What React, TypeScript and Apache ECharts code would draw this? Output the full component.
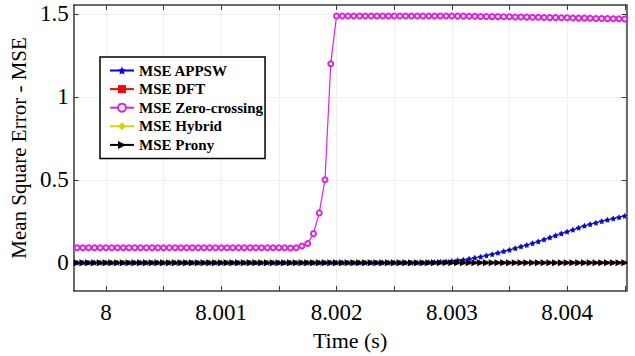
import React, { useEffect, useRef } from "react";
import * as echarts from "echarts";

// Time samples (s)
const time = [
  7.99975, 7.9998, 7.99985, 7.9999, 7.99995,
  8, 8.00005, 8.0001, 8.00015, 8.0002, 8.00025, 8.0003, 8.00035, 8.0004, 8.00045,
  8.0005, 8.00055, 8.0006, 8.00065, 8.0007, 8.00075, 8.0008, 8.00085, 8.0009, 8.00095,
  8.001, 8.00105, 8.0011, 8.00115, 8.0012, 8.00125, 8.0013, 8.00135, 8.0014, 8.00145,
  8.0015, 8.00155, 8.0016, 8.00165, 8.0017, 8.00175, 8.0018, 8.00185, 8.0019, 8.00195,
  8.002, 8.00205, 8.0021, 8.00215, 8.0022, 8.00225, 8.0023, 8.00235, 8.0024, 8.00245,
  8.0025, 8.00255, 8.0026, 8.00265, 8.0027, 8.00275, 8.0028, 8.00285, 8.0029, 8.00295,
  8.003, 8.00305, 8.0031, 8.00315, 8.0032, 8.00325, 8.0033, 8.00335, 8.0034, 8.00345,
  8.0035, 8.00355, 8.0036, 8.00365, 8.0037, 8.00375, 8.0038, 8.00385, 8.0039, 8.00395,
  8.004, 8.00405, 8.0041, 8.00415, 8.0042, 8.00425, 8.0043, 8.00435, 8.0044, 8.00445,
  8.0045,
];

const mseAPPSW = [
  0, 0, 0, 0, 0,
  0, 0, 0, 0, 0, 0, 0, 0, 0, 0,
  0, 0, 0, 0, 0, 0, 0, 0, 0, 0,
  0, 0, 0, 0, 0, 0, 0, 0, 0, 0,
  0, 0, 0, 0, 0, 0, 0, 0, 0, 0,
  0, 0, 0, 0, 0, 0, 0, 0, 0, 0,
  0, 0, 0, 0, 0, 0, 0.002, 0.003, 0.005, 0.007,
  0.01, 0.014, 0.018, 0.023, 0.029, 0.036, 0.043, 0.051, 0.059, 0.068,
  0.077, 0.087, 0.097, 0.107, 0.117, 0.128, 0.14, 0.152, 0.164, 0.176,
  0.187, 0.198, 0.21, 0.222, 0.232, 0.241, 0.25, 0.258, 0.266, 0.274,
  0.282,
];

const mseDFT = [
  0, 0, 0, 0, 0,
  0, 0, 0, 0, 0, 0, 0, 0, 0, 0,
  0, 0, 0, 0, 0, 0, 0, 0, 0, 0,
  0, 0, 0, 0, 0, 0, 0, 0, 0, 0,
  0, 0, 0, 0, 0, 0, 0, 0, 0, 0,
  0, 0, 0, 0, 0, 0, 0, 0, 0, 0,
  0, 0, 0, 0, 0, 0, 0, 0, 0, 0,
  0, 0, 0, 0, 0, 0, 0, 0, 0, 0,
  0, 0, 0, 0, 0, 0, 0, 0, 0, 0,
  0, 0, 0, 0, 0, 0, 0, 0, 0, 0,
  0,
];

const mseZeroCrossing = [
  0.09, 0.09, 0.09, 0.09, 0.09,
  0.09, 0.09, 0.09, 0.09, 0.09, 0.09, 0.09, 0.09, 0.09, 0.09,
  0.09, 0.09, 0.09, 0.09, 0.09, 0.09, 0.09, 0.09, 0.09, 0.09,
  0.09, 0.09, 0.09, 0.09, 0.09, 0.09, 0.09, 0.09, 0.09, 0.09,
  0.09, 0.09, 0.088, 0.09, 0.1, 0.115, 0.175, 0.3, 0.5, 1.2,
  1.488, 1.488, 1.488, 1.488, 1.488, 1.488, 1.488, 1.488, 1.488, 1.488,
  1.488, 1.488, 1.488, 1.488, 1.488, 1.488, 1.488, 1.488, 1.488, 1.488,
  1.488, 1.487, 1.487, 1.486, 1.486, 1.485, 1.485, 1.484, 1.484, 1.483,
  1.483, 1.482, 1.482, 1.481, 1.48, 1.48, 1.479, 1.478, 1.478, 1.477,
  1.477, 1.476, 1.475, 1.475, 1.474, 1.473, 1.473, 1.472, 1.471, 1.471,
  1.47,
];

const mseHybrid = [
  0, 0, 0, 0, 0,
  0, 0, 0, 0, 0, 0, 0, 0, 0, 0,
  0, 0, 0, 0, 0, 0, 0, 0, 0, 0,
  0, 0, 0, 0, 0, 0, 0, 0, 0, 0,
  0, 0, 0, 0, 0, 0, 0, 0, 0, 0,
  0, 0, 0, 0, 0, 0, 0, 0, 0, 0,
  0, 0, 0, 0, 0, 0, 0.002, 0.003, 0.005, 0.007,
  0.01, 0.014, 0.018, 0.023, 0.029, 0.036, 0.043, 0.051, 0.059, 0.068,
  0.077, 0.087, 0.097, 0.107, 0.117, 0.128, 0.14, 0.152, 0.164, 0.176,
  0.187, 0.198, 0.21, 0.222, 0.232, 0.241, 0.25, 0.258, 0.266, 0.274,
  0.282,
];

const mseProny = [
  0, 0, 0, 0, 0,
  0, 0, 0, 0, 0, 0, 0, 0, 0, 0,
  0, 0, 0, 0, 0, 0, 0, 0, 0, 0,
  0, 0, 0, 0, 0, 0, 0, 0, 0, 0,
  0, 0, 0, 0, 0, 0, 0, 0, 0, 0,
  0, 0, 0, 0, 0, 0, 0, 0, 0, 0,
  0, 0, 0, 0, 0, 0, 0, 0, 0, 0,
  0, 0, 0, 0, 0, 0, 0, 0, 0, 0,
  0, 0, 0, 0, 0, 0, 0, 0, 0, 0,
  0, 0, 0, 0, 0, 0, 0, 0, 0, 0,
  0,
];

const seriesNames = ["MSE APPSW", "MSE DFT", "MSE Zero-crossing", "MSE Hybrid", "MSE Prony"];

const xTicks = [8, 8.0005, 8.001, 8.0015, 8.002, 8.0025, 8.003, 8.0035, 8.004, 8.0045];
const xLabels = [8, 8.001, 8.002, 8.003, 8.004];
const yTicks = [0, 0.5, 1, 1.5];

const FONT = "Liberation Serif, serif";
const STAR =
  "path://M0,-10L2.94,-4.05L9.51,-3.09L4.76,1.55L5.88,8.09L0,5L-5.88,8.09L-4.76,1.55L-9.51,-3.09L-2.94,-4.05Z";

function pairs(vals: number[]) {
  return time.map((t, i) => [t, vals[i]]);
}

export default function App() {
  const ref = useRef<HTMLDivElement>(null);
  useEffect(() => {
    if (!ref.current) return;
    const chart = echarts.init(ref.current, null, { renderer: "svg" });
    const axisLineStyle = { color: "#3a3a3a", width: 1.5 };
    const fmt = (v: number) => String(parseFloat(Number(v).toFixed(4)));
    chart.setOption({
      animation: false,
      backgroundColor: "#ffffff",
      textStyle: { fontFamily: FONT },
      grid: { left: 73, right: 8.5, top: 5, bottom: 65 },
      legend: {
        orient: "vertical",
        left: 100,
        top: 57,
        data: seriesNames,
        backgroundColor: "#ffffff",
        borderColor: "#000000",
        borderWidth: 1.5,
        padding: [6, 2, 6, 9],
        itemWidth: 24,
        itemHeight: 10,
        itemGap: 3.6,
        textStyle: { fontFamily: FONT, fontSize: 15, fontWeight: "bold", color: "#000", lineHeight: 15 },
      },
      xAxis: [
        {
          type: "value",
          min: 7.99972,
          max: 8.004515,
          position: "bottom",
          name: "Time (s)",
          nameLocation: "middle",
          nameGap: 38,
          nameTextStyle: { fontFamily: FONT, fontSize: 22, color: "#000" },
          axisLine: { onZero: false, lineStyle: axisLineStyle },
          axisTick: { inside: true, length: 5, customValues: xTicks, lineStyle: { color: "#3a3a3a" } },
          axisLabel: {
            customValues: xLabels,
            formatter: fmt,
            margin: 10,
            fontFamily: FONT,
            fontSize: 23,
            color: "#000",
          },
          splitLine: { show: true, lineStyle: { color: "#e2e2e2", type: "dotted", width: 1 } },
        },
        {
          type: "value",
          min: 7.99972,
          max: 8.004515,
          position: "top",
          axisLine: { onZero: false, lineStyle: axisLineStyle },
          axisTick: { inside: true, length: 5, customValues: xTicks, lineStyle: { color: "#3a3a3a" } },
          axisLabel: { show: false },
          splitLine: { show: false },
        },
      ],
      yAxis: [
        {
          type: "value",
          min: -0.171,
          max: 1.554,
          position: "left",
          name: "Mean Square Error - MSE",
          nameLocation: "middle",
          nameGap: 35,
          nameTextStyle: { fontFamily: FONT, fontSize: 21, color: "#000" },
          axisLine: { show: true, onZero: false, lineStyle: axisLineStyle },
          axisTick: { show: true, inside: true, length: 5, customValues: yTicks, lineStyle: { color: "#3a3a3a" } },
          axisLabel: {
            customValues: yTicks,
            formatter: fmt,
            margin: 5,
            fontFamily: FONT,
            fontSize: 23,
            color: "#000",
          },
          splitLine: { show: true, lineStyle: { color: "#e2e2e2", type: "dotted", width: 1 } },
        },
        {
          type: "value",
          min: -0.171,
          max: 1.554,
          position: "right",
          axisLine: { show: true, onZero: false, lineStyle: axisLineStyle },
          axisTick: { show: true, inside: true, length: 5, customValues: yTicks, lineStyle: { color: "#3a3a3a" } },
          axisLabel: { show: false },
          splitLine: { show: false },
        },
      ],
      series: [
        {
          name: seriesNames[0],
          type: "line",
          data: pairs(mseAPPSW),
          symbol: STAR,
          symbolSize: 6,
          showAllSymbol: true,
          color: "#0000ff",
          lineStyle: { width: 1, color: "#0000ff" },
          itemStyle: { color: "#0000ff" },
          z: 5,
        },
        {
          name: seriesNames[1],
          type: "line",
          data: pairs(mseDFT),
          symbol: "rect",
          symbolSize: 3.5,
          showAllSymbol: true,
          color: "#ff0000",
          lineStyle: { width: 1, color: "#ff0000" },
          itemStyle: { color: "#ff0000" },
          z: 3,
        },
        {
          name: seriesNames[2],
          type: "line",
          data: pairs(mseZeroCrossing),
          symbol: "emptyCircle",
          symbolSize: 5,
          showAllSymbol: true,
          color: "#dd22dd",
          lineStyle: { width: 1.2, color: "#dd22dd" },
          itemStyle: { color: "#dd22dd", borderWidth: 1 },
          z: 4,
        },
        {
          name: seriesNames[3],
          type: "line",
          data: pairs(mseHybrid),
          symbol: "diamond",
          symbolSize: 6,
          showAllSymbol: true,
          color: "#d4d400",
          lineStyle: { width: 1, color: "#d4d400" },
          itemStyle: { color: "#d4d400" },
          z: 4,
        },
        {
          name: seriesNames[4],
          type: "line",
          data: pairs(mseProny),
          symbol: "triangle",
          symbolRotate: -90,
          symbolSize: 7,
          showAllSymbol: true,
          color: "#000000",
          lineStyle: { width: 1, color: "#000000" },
          itemStyle: { color: "#000000" },
          z: 6,
        },
      ],
    });
    return () => chart.dispose();
  }, []);
  return (
    <div
      ref={ref}
      style={{ position: "fixed", left: 0, top: 0, width: 635, height: 356 }}
    />
  );
}
